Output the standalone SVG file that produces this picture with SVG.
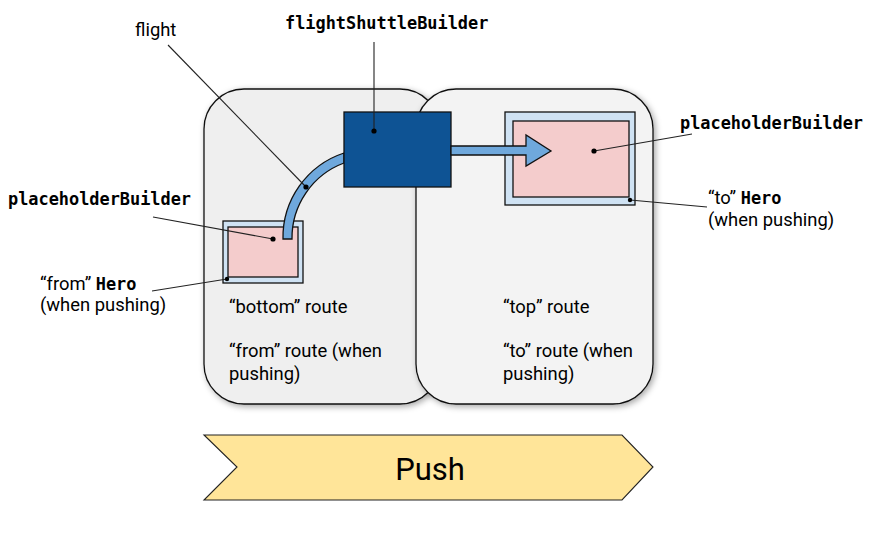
<svg xmlns="http://www.w3.org/2000/svg" width="871" height="534" viewBox="0 0 871 534">
<style>
.t{font-family:Roboto,"Liberation Sans",sans-serif;font-size:18.4px;fill:#000}
.m{font-family:"DejaVu Sans Mono","Liberation Mono",monospace;font-weight:bold;font-size:16.9px;fill:#000}
.ln{stroke:#222;stroke-width:1.1;fill:none}
.dot{fill:#000}
.ol{stroke:#111;stroke-width:1.3}
</style>
<defs>
<filter id="sh" x="-10%" y="-10%" width="125%" height="125%">
<feDropShadow dx="2" dy="2" stdDeviation="3" flood-color="#000" flood-opacity="0.35"/>
</filter>
</defs>
<rect width="871" height="534" fill="#fff"/>
<g id="bottom-route">
<rect x="204" y="89" width="236" height="315" rx="40" fill="#efefef" class="ol" filter="url(#sh)"/>
<text class="t" x="229" y="313">“bottom” route</text>
<text class="t" x="229" y="357">“from” route (when</text>
<text class="t" x="229" y="380">pushing)</text>
</g>
<g id="top-route">
<rect x="416" y="89" width="237" height="315" rx="40" fill="#f3f3f3" class="ol" filter="url(#sh)"/>
<text class="t" x="503" y="313">“top” route</text>
<text class="t" x="503" y="357">“to” route (when</text>
<text class="t" x="503" y="380">pushing)</text>
</g>
<g id="from-hero">
<rect x="223" y="221" width="80" height="62" fill="#cfe2f3" class="ol"/>
<rect x="228" y="227" width="70" height="50" fill="#f4cccc" class="ol"/>
</g>
<g id="to-hero">
<rect x="505" y="112" width="130" height="93" fill="#cfe2f3" class="ol"/>
<rect x="513" y="121" width="116" height="76" fill="#f4cccc" class="ol"/>
</g>
<g id="flight">
<path d="M283,239 A89,89 0 0 1 344,153 L344,163 A80,80 0 0 0 292,239 Z" fill="#6fa8dc" class="ol"/>
</g>
<g id="shuttle">
<rect x="344" y="112" width="107" height="75" fill="#0e5394" class="ol"/>
</g>
<g id="shuttle-arrow">
<path d="M451,146 L526,146 L526,135 L551,151 L526,166 L526,155 L451,155 Z" fill="#6fa8dc" class="ol"/>
</g>
<g id="connectors">
<line class="ln" x1="168" y1="45" x2="306" y2="187"/>
<circle class="dot" cx="306" cy="187" r="2.6"/>
<line class="ln" x1="374" y1="42" x2="374" y2="131"/>
<circle class="dot" cx="374" cy="131" r="2.6"/>
<line class="ln" x1="153" y1="217" x2="273" y2="239"/>
<circle class="dot" cx="273" cy="239" r="2.6"/>
<line class="ln" x1="152" y1="291" x2="227" y2="279"/>
<circle class="dot" cx="227" cy="279" r="2.2"/>
<line class="ln" x1="692" y1="134" x2="594" y2="151"/>
<circle class="dot" cx="594" cy="151" r="2.6"/>
<line class="ln" x1="630" y1="200" x2="707" y2="207"/>
<circle class="dot" cx="630" cy="200" r="2.2"/>
</g>
<g id="labels">
<text class="t" x="135" y="36">flight</text>
<text class="m" x="285" y="29">flightShuttleBuilder</text>
<text class="m" x="8" y="205">placeholderBuilder</text>
<text class="t" x="40" y="290">“from” <tspan class="m">Hero</tspan></text>
<text class="t" x="40" y="311">(when pushing)</text>
<text class="m" x="680" y="129">placeholderBuilder</text>
<text class="t" x="708" y="204">“to” <tspan class="m">Hero</tspan></text>
<text class="t" x="708" y="226">(when pushing)</text>
</g>
<g id="push">
<path d="M204,435 L622,435 L653,467 L622,500 L204,500 L237,467 Z" fill="#ffe599" stroke="#222" stroke-width="1.1"/>
<text x="430" y="480" text-anchor="middle" font-family="Roboto,'Liberation Sans',sans-serif" font-size="31">Push</text>
</g>
</svg>
